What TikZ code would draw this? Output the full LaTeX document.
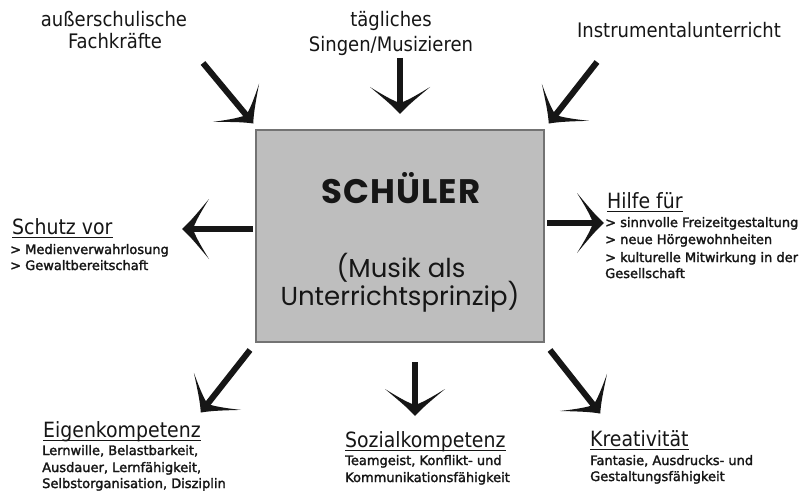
\documentclass[tikz,border=0pt]{standalone}
\usepackage{fontspec}
\setmainfont{DejaVu Sans Condensed}
\newfontfamily\smallfont[FakeBold=2]{DejaVu Sans}
\newfontfamily\boxfont{Poppins}
\usetikzlibrary{decorations.markings}
\definecolor{boxfill}{RGB}{190,190,190}
\definecolor{boxline}{RGB}{115,115,115}
\definecolor{ink}{RGB}{22,22,22}
\tikzset{
  fatarrow/.style={draw=ink, line width=6pt, shorten >=8pt,
    postaction={decorate, decoration={markings, mark=at position 1 with {%
      \fill[ink] (2,0) .. controls (-6,7) and (-15,18) .. (-25,30)
        .. controls (-15,14) and (-11,6) .. (-9,0)
        .. controls (-11,-6) and (-15,-14) .. (-25,-30)
        .. controls (-15,-18) and (-6,-7) .. (2,0) -- cycle;}}}},
  toplabel/.style={font=\fontsize{20}{24}\selectfont, text=ink, inner sep=0pt, anchor=base},
  heading/.style={font=\fontsize{21}{25}\selectfont, text=ink, inner sep=0pt, anchor=base west, text depth=3.5pt},
  small/.style={font=\smallfont\fontsize{13}{16}\selectfont, text=ink, inner sep=0pt, anchor=base west},
  uline/.style={draw=ink, line width=1.3pt},
  box/.style={draw=boxline, fill=boxfill, line width=1.5pt, minimum width=288pt, minimum height=212pt, inner sep=0pt},
  boxbig/.style={font=\boxfont\bfseries\fontsize{34}{38}\selectfont\addfontfeature{LetterSpace=3}, text=ink, inner sep=0pt, anchor=base},
  boxtxt/.style={font=\boxfont\fontsize{26}{30}\selectfont, text=ink, inner sep=0pt, anchor=base},
}
\begin{document}
\begin{tikzpicture}[x=1pt, y=-1pt]
\useasboundingbox (0,0) rectangle (803,492);
\fill[white] (0,0) rectangle (803,492);

% central box
\node[box] (box) at (400,236) {};
\node[boxbig] (schueler) at (401,203) {SCHÜLER};
\node[boxtxt] (musik1) at (401,277) {(Musik als};
\node[boxtxt] (musik2) at (400,305) {Unterrichtsprinzip)};

% top labels
\node[toplabel] (ta1) at (114,27) {außerschulische};
\node[toplabel] (ta2) at (115,49) {Fachkräfte};
\node[toplabel] (tb1) at (391,27) {tägliches};
\node[toplabel] (tb2) at (391,52) {Singen/Musizieren};
\node[toplabel] (tc1) at (679,38) {Instrumentalunterricht};

% arrow end points
\coordinate (tlS) at (203,63);  \coordinate (tlE) at (252,122);
\coordinate (tcS) at (400,58);  \coordinate (tcE) at (400,112);
\coordinate (trS) at (597,62);  \coordinate (trE) at (550,122);
\coordinate (lS) at (253,229);  \coordinate (lE) at (184,229);
\coordinate (rS) at (547,223);  \coordinate (rE) at (602,223);
\coordinate (blS) at (250,350); \coordinate (blE) at (202,411);
\coordinate (bcS) at (415,362); \coordinate (bcE) at (415,414);
\coordinate (brS) at (550,350); \coordinate (brE) at (599,412);

\draw[fatarrow] (tlS) -- (tlE);
\draw[fatarrow] (tcS) -- (tcE);
\draw[fatarrow] (trS) -- (trE);
\draw[fatarrow] (lS) -- (lE);
\draw[fatarrow] (rS) -- (rE);
\draw[fatarrow] (blS) -- (blE);
\draw[fatarrow] (bcS) -- (bcE);
\draw[fatarrow] (brS) -- (brE);

% left: Schutz vor
\node[heading] (schutz) at (12,234) {Schutz vor};
\draw[uline] (schutz.south west) -- (schutz.south east);
\node[small] (s1) at (10,254) {> Medienverwahrlosung};
\node[small] (s2) at (10,270) {> Gewaltbereitschaft};

% right: Hilfe für
\node[heading] (hilfe) at (607,208) {Hilfe für};
\draw[uline] (hilfe.south west) -- (hilfe.south east);
\node[small] (h1) at (605,227) {> sinnvolle Freizeitgestaltung};
\node[small] (h2) at (605,244) {> neue Hörgewohnheiten};
\node[small] (h3) at (605,262) {> kulturelle Mitwirkung in der};
\node[small] (h4) at (605,278) {Gesellschaft};

% bottom left: Eigenkompetenz
\node[heading] (eigen) at (43,437) {Eigenkompetenz};
\draw[uline] (eigen.south west) -- (eigen.south east);
\node[small] (e1) at (42,455) {Lernwille, Belastbarkeit,};
\node[small] (e2) at (42,472) {Ausdauer, Lernfähigkeit,};
\node[small] (e3) at (42,488) {Selbstorganisation, Disziplin};

% bottom center: Sozialkompetenz
\node[heading] (sozial) at (345,447) {Sozialkompetenz};
\draw[uline] (sozial.south west) -- (sozial.south east);
\node[small] (z1) at (345,465) {Teamgeist, Konflikt- und};
\node[small] (z2) at (345,482) {Kommunikationsfähigkeit};

% bottom right: Kreativität
\node[heading] (kreativ) at (590,446) {Kreativität};
\draw[uline] (kreativ.south west) -- (kreativ.south east);
\node[small] (k1) at (590,465) {Fantasie, Ausdrucks- und};
\node[small] (k2) at (590,481) {Gestaltungsfähigkeit};
\end{tikzpicture}
\end{document}
